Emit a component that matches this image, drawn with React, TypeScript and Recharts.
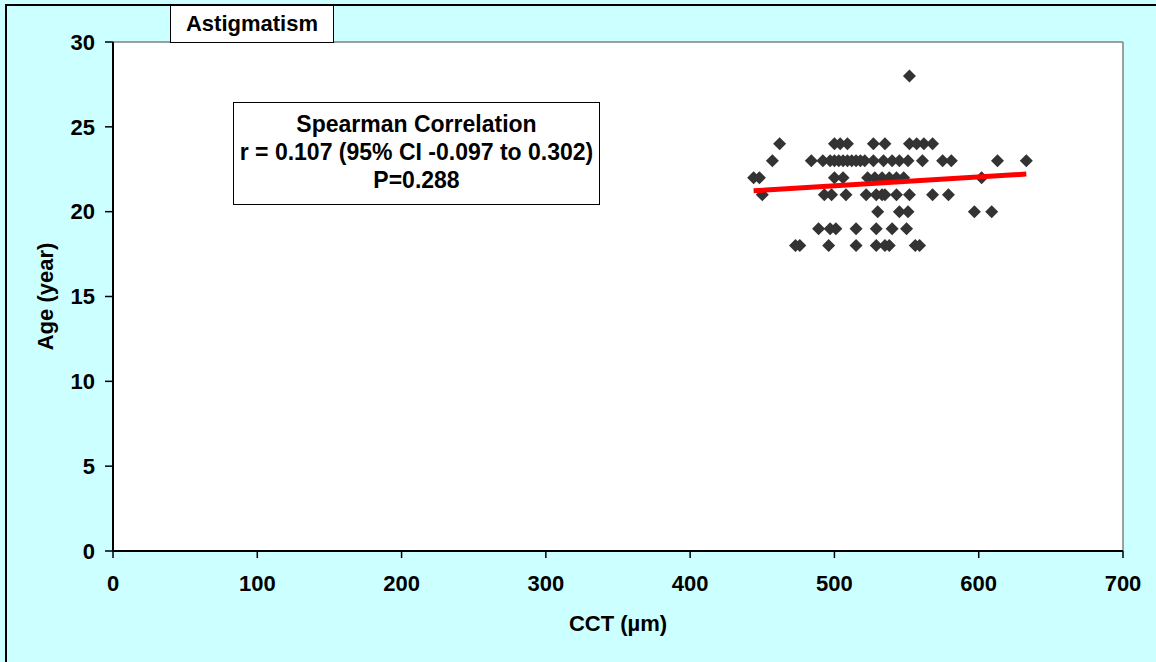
import { ScatterChart, Scatter, XAxis, YAxis, CartesianGrid, ReferenceLine } from "recharts";

// CCT (µm) readings grouped by age (year)
const cct18 = [473, 476, 496, 515, 529, 535, 538, 556, 559];
const cct19 = [489, 497, 501, 515, 529, 540, 550];
const cct20 = [530, 545, 551, 597, 609];
const cct21 = [450, 493, 498, 508, 522, 529, 533, 535, 543, 552, 568, 579];
const cct22 = [444, 448, 500, 506, 523, 528, 533, 538, 543, 548, 602];
const cct23 = [457, 484, 492, 497, 500, 503, 506, 509, 512, 515, 518, 521, 527, 534, 540, 545, 551, 561, 575, 581, 613, 633];
const cct24 = [462, 500, 504, 509, 527, 535, 552, 557, 562, 568];
const cct28 = [552];

const ages = [18, 19, 20, 21, 22, 23, 24, 28];
const cctByAge = [cct18, cct19, cct20, cct21, cct22, cct23, cct24, cct28];

// fitted trend line end points
const trendX = [444, 633];
const trendY = [21.23, 22.22];

const xTicks = [0, 100, 200, 300, 400, 500, 600, 700];
const yTicks = [0, 5, 10, 15, 20, 25, 30];

const points = ages.flatMap((age, i) => cctByAge[i].map((cct) => ({ cct, age })));
const trend = trendX.map((x, i) => ({ cct: x, age: trendY[i] }));

const FONT = "'Liberation Sans', Arial, sans-serif";

function Diamond(props: any) {
  const { cx, cy } = props;
  const r = 6.5;
  return (
    <polygon
      points={`${cx},${cy - r} ${cx + r},${cy} ${cx},${cy + r} ${cx - r},${cy}`}
      fill="#333333"
    />
  );
}

export default function App() {
  return (
    <div
      style={{
        position: "absolute", left: 0, top: 0, width: 1156, height: 662,
        overflow: "hidden", background: "#ccffff", fontFamily: FONT,
      }}
    >
      <div
        style={{
          position: "absolute", left: 5, top: 4, width: 1220, height: 720,
          border: "2px solid #000", boxSizing: "border-box",
        }}
      />
      <div style={{ position: "absolute", left: 0, top: 0 }}>
        <ScatterChart width={1156} height={662} margin={{ top: 42, right: 33, bottom: 0, left: 0 }}>
          <CartesianGrid fill="#ffffff" horizontal={false} vertical={false} />
          <XAxis
            type="number"
            dataKey="cct"
            domain={[0, 700]}
            ticks={xTicks}
            interval={0}
            height={111}
            tickSize={7}
            tickMargin={17}
            axisLine={{ stroke: "#000", strokeWidth: 2 }}
            tickLine={{ stroke: "#000", strokeWidth: 1.5 }}
            tick={{ fill: "#000", fontSize: 22, fontWeight: "bold", fontFamily: FONT }}
            label={{ value: "CCT (µm)", position: "insideBottom", offset: 31, fill: "#000", fontSize: 22, fontWeight: "bold", fontFamily: FONT }}
          />
          <YAxis
            type="number"
            dataKey="age"
            domain={[0, 30]}
            ticks={yTicks}
            interval={0}
            width={113}
            tickSize={8}
            tickMargin={10}
            axisLine={{ stroke: "#000", strokeWidth: 2 }}
            tickLine={{ stroke: "#000", strokeWidth: 1.5 }}
            tick={{ fill: "#000", fontSize: 22, fontWeight: "bold", fontFamily: FONT }}
            label={{
              value: "Age (year)", angle: -90, position: "insideLeft", offset: 45,
              fill: "#000", fontSize: 22, fontWeight: "bold", fontFamily: FONT,
              style: { textAnchor: "middle" },
            }}
          />
          <ReferenceLine y={30} stroke="#808080" strokeWidth={1.5} />
          <ReferenceLine x={700} stroke="#808080" strokeWidth={1.5} />
          <Scatter data={points} shape={Diamond} isAnimationActive={false} />
          <Scatter
            data={trend}
            line={{ stroke: "#ff0000", strokeWidth: 5 }}
            shape={() => <g />}
            isAnimationActive={false}
          />
        </ScatterChart>
      </div>
      <div
        style={{
          position: "absolute", left: 170, top: 5, width: 164, height: 38,
          border: "1.5px solid #000", boxSizing: "border-box", background: "#fff",
          display: "flex", alignItems: "center", justifyContent: "center",
          fontSize: 22, fontWeight: "bold",
        }}
      >
        Astigmatism
      </div>
      <div
        style={{
          position: "absolute", left: 233, top: 102, width: 367, height: 103,
          border: "1.5px solid #000", boxSizing: "border-box", background: "#fff",
          paddingTop: 7, textAlign: "center", fontSize: 23, fontWeight: "bold",
          lineHeight: "28px", whiteSpace: "nowrap",
        }}
      >
        <div>Spearman Correlation</div>
        <div>r = 0.107 (95% CI -0.097 to 0.302)</div>
        <div>P=0.288</div>
      </div>
    </div>
  );
}
